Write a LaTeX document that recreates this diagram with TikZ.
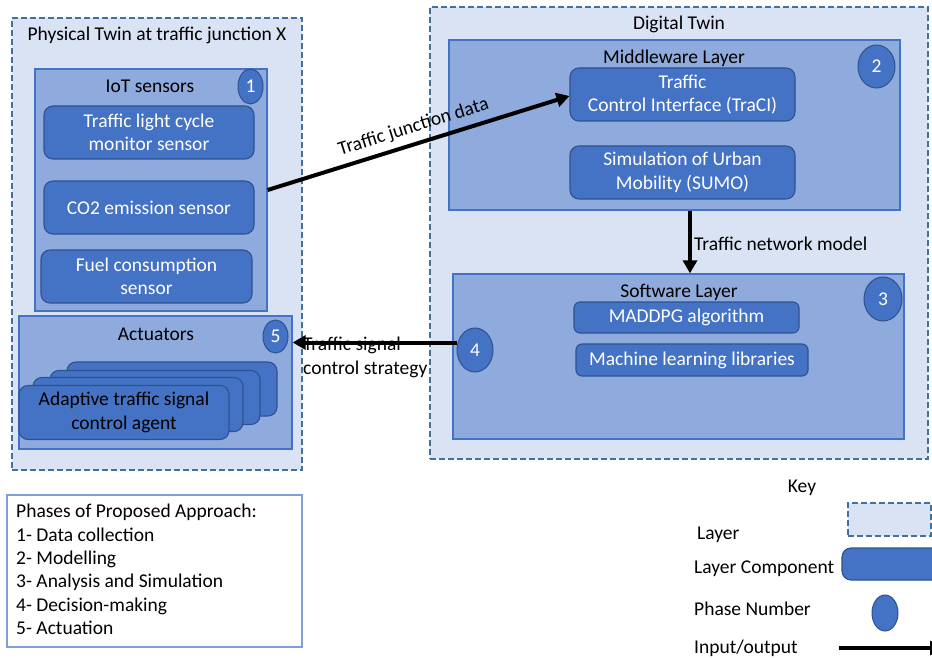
\documentclass[tikz,border=0pt]{standalone}
\usepackage{fontspec}
\setmainfont{Carlito}
\usetikzlibrary{arrows.meta,shapes.geometric,calc}
\definecolor{twinfill}{HTML}{DAE3F3}
\definecolor{twinline}{HTML}{41719C}
\definecolor{layfill}{HTML}{8FAADC}
\definecolor{layline}{HTML}{4472C4}
\definecolor{compfill}{HTML}{4472C4}
\definecolor{compline}{HTML}{2F528F}
\definecolor{phline}{HTML}{7F9FD8}
\tikzset{
  txt/.style={font=\fontsize{19.5}{23.4}\selectfont, inner sep=0pt, align=center},
  twin/.style={draw=twinline, fill=twinfill, line width=1.1pt, dash pattern=on 6pt off 3pt, inner sep=0pt},
  layer/.style={draw=layline, fill=layfill, line width=1.3pt, inner sep=0pt},
  comp/.style={draw=compline, fill=compfill, line width=1.1pt, rounded corners=9pt, inner sep=0pt,
    text=white, font=\fontsize{19.5}{23.4}\selectfont, align=center, minimum width=210pt, minimum height=53pt},
  phase/.style={ellipse, draw=compline, fill=compfill, line width=1pt, inner sep=0pt, text=white,
    font=\fontsize{19.5}{23.4}\selectfont},
  arr/.style={line width=4pt, -{Triangle[length=13pt,width=14pt]}},
}
\begin{document}
\begin{tikzpicture}[x=1pt,y=-1pt]
\useasboundingbox (0,0) rectangle (932,658);
% Physical twin
\node[twin, minimum width=290pt, minimum height=452pt] (phys) at (157,244) {};
\node[txt] (physT) at (157,35.5) {Physical Twin at traffic junction X};
\node[layer, minimum width=232pt, minimum height=242pt] (iot) at (151,190) {};
\node[txt] (iotT) at (150,86.5) {IoT sensors};
\node[phase, minimum width=25pt, minimum height=35pt] (c1) at (250.5,86.5) {1};
\node[comp] (tl) at (149,132.5) {Traffic light cycle\\monitor sensor};
\node[comp] (co2) at (149,207.5) {CO2 emission sensor};
\node[comp, minimum width=211pt] (fuel) at (146.5,276.5) {Fuel consumption\\sensor};
\node[layer, minimum width=273pt, minimum height=133pt] (act) at (155.5,382.5) {};
\node[txt] (actT) at (156,334.5) {Actuators};
\node[phase, minimum width=25pt, minimum height=33pt] (c5) at (275.5,336.5) {5};
\node[comp, minimum height=54pt] (ag4) at (172,389) {};
\node[comp, minimum height=54pt] (ag3) at (155,397.5) {};
\node[comp, minimum height=54pt] (ag2) at (138,404.5) {};
\node[comp, minimum height=54pt, text=black] (ag1) at (124,412.5) {Adaptive traffic signal\\control agent};
% Digital twin
\node[twin, minimum width=498pt, minimum height=452pt] (dt) at (679,233) {};
\node[txt] (dtT) at (679,24.5) {Digital Twin};
\node[layer, minimum width=451pt, minimum height=170pt] (mw) at (674.5,125) {};
\node[txt] (mwT) at (674,58.5) {Middleware Layer};
\node[phase, minimum width=37pt, minimum height=43pt] (c2) at (876.5,66.5) {2};
\node[comp, minimum width=225pt] (traci) at (682.5,94.5) {Traffic\\Control Interface (TraCI)};
\node[comp, minimum width=225pt] (sumo) at (682.5,172.5) {Simulation of Urban\\Mobility (SUMO)};
\node[layer, minimum width=451pt, minimum height=165pt] (sw) at (678.5,356.5) {};
\node[txt] (swT) at (679,292.5) {Software Layer};
\node[phase, minimum width=38pt, minimum height=44pt] (c3) at (883,299) {3};
\node[comp, minimum width=225pt, minimum height=31pt, rounded corners=6pt] (maddpg) at (686.5,317.5) {MADDPG algorithm};
\node[comp, minimum width=232pt, minimum height=32pt, rounded corners=6pt] (ml) at (692,360) {Machine learning libraries};
\node[phase, minimum width=36pt, minimum height=44pt] (c4) at (475,350) {4};
% connectors
\draw[arr] ([yshift=0pt]iot.east) -- ([yshift=-1.5pt]traci.west)
  node[txt, pos=0.5, sloped, above=6pt] (lblA) {Traffic junction data};
\draw[arr] ([xshift=15.5pt]mw.south) -- ([xshift=15.5pt]mw.south |- sw.north);
\node[txt, anchor=west] (lblB) at (694,244) {Traffic network model};
\draw[arr] ([yshift=7.5pt]c4.west) -- ([yshift=7.5pt]c4.west -| act.east);
\node[txt, anchor=west, align=left] (lblC) at (303,357.5) {Traffic signal\\control strategy};
% phases
\node[draw=phline, line width=1.2pt, fill=white, minimum width=295pt, minimum height=152pt, inner sep=0pt] (ph) at (154.5,571) {};
\node[txt, anchor=north west, align=left] (phT) at (16,504) {Phases of Proposed Approach:\\1- Data collection\\2- Modelling\\3- Analysis and Simulation\\4- Decision-making\\5- Actuation};
% key
\node[txt] (keyT) at (802,487.5) {Key};
\node[txt, anchor=west] (kL) at (697,534.5) {Layer};
\node[txt, anchor=west] (kC) at (694,569) {Layer Component};
\node[txt, anchor=west] (kP) at (694,609) {Phase Number};
\node[txt, anchor=west] (kI) at (694,648) {Input/output};
\begin{scope}
\clip (0,0) rectangle (932,658);
\node[twin, minimum width=83pt, minimum height=33pt] (kLbox) at (889.5,519.5) {};
\node[comp, minimum width=110pt, minimum height=32pt] (kCbox) at (897,564) {};
\node[phase, minimum width=26pt, minimum height=36pt] (kPell) at (885,613) {};
\coordinate (ioS) at (839,648);
\coordinate (ioE) at (943,648);
\draw[arr] (ioS) -- (ioE);
\end{scope}
\end{tikzpicture}
\end{document}
